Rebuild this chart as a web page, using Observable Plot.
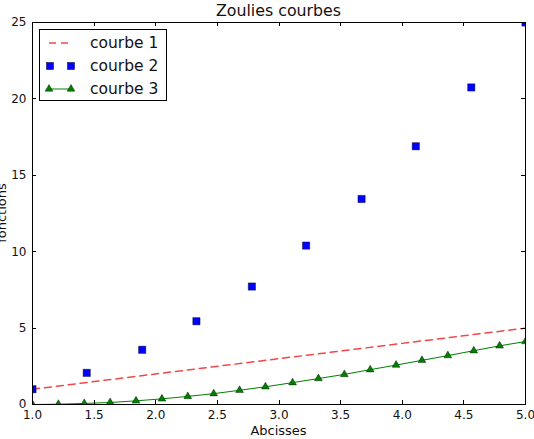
<!DOCTYPE html>
<html><head><meta charset="utf-8">
<script src="https://cdn.jsdelivr.net/npm/d3@7"></script>
<script src="https://cdn.jsdelivr.net/npm/@observablehq/plot@0.6"></script>
<style>body{margin:0;background:#fff;}</style>
</head><body><div id="chart"></div>
<script>
const title = "Zoulies courbes";
const xLabel = "Abcisses";
const yLabel = "fonctions";
const seriesNames = ["courbe 1", "courbe 2", "courbe 3"];

const curve1X = [1, 2, 3, 4, 5];
const curve1Y = [1, 2, 3, 4, 5];

const curve2X = [1, 1.44, 1.89, 2.33, 2.78, 3.22, 3.67, 4.11, 4.56, 5];
const curve2Y = [1.0, 2.07, 3.58, 5.45, 7.72, 10.4, 13.45, 16.9, 20.75, 25];

const curve3X = [1, 1.21, 1.42, 1.63, 1.84, 2.05, 2.26, 2.47, 2.68, 2.89, 3.11, 3.32, 3.53, 3.74, 3.95, 4.16, 4.37, 4.58, 4.79, 5];
const curve3Y = [0, 0.02, 0.07, 0.13, 0.24, 0.37, 0.53, 0.71, 0.93, 1.16, 1.43, 1.7, 1.97, 2.28, 2.58, 2.89, 3.2, 3.52, 3.84, 4.12];

const xTicks = [1, 1.5, 2, 2.5, 3, 3.5, 4, 4.5, 5];
const xTickLabels = ["1.0", "1.5", "2.0", "2.5", "3.0", "3.5", "4.0", "4.5", "5.0"];
const yTicks = [0, 5, 10, 15, 20, 25];
const yTickLabels = ["0", "5", "10", "15", "20", "25"];

const d1 = curve1X.map((x, i) => ({x, y: curve1Y[i]}));
const d2 = curve2X.map((x, i) => ({x, y: curve2Y[i]}));
const d3d = curve3X.map((x, i) => ({x, y: curve3Y[i]}));

const W = 534, H = 439, mL = 32, mR = 9, mT = 22, mB = 35;
const red = "#f04848", blue = "#0000ff", green = "#008000";

const chart = Plot.plot({
  width: W, height: H,
  marginLeft: mL, marginRight: mR, marginTop: mT, marginBottom: mB,
  style: {fontFamily: "DejaVu Sans", fontSize: "12px", background: "white", color: "#111"},
  x: {domain: [1, 5]},
  y: {domain: [0, 25]},
  marks: [
    Plot.line(d1, {x: "x", y: "y", stroke: red, strokeWidth: 1.5, strokeDasharray: "7,5", clip: true}),
    Plot.line(d3d, {x: "x", y: "y", stroke: green, strokeWidth: 1, clip: true}),
    Plot.dot(d3d, {x: "x", y: "y", symbol: "triangle", r: 2.9, fill: green, stroke: "black", strokeWidth: 0.4, clip: true}),
    Plot.dot(d2, {x: "x", y: "y", symbol: "square", r: 4.1, fill: blue, stroke: "black", strokeWidth: 0.4, clip: true}),
    Plot.axisX(xTicks, {tickSize: 0, tickPadding: 6, tickFormat: d => xTickLabels[xTicks.indexOf(d)], label: null, fontSize: 12}),
    Plot.axisY(yTicks, {tickSize: 0, tickPadding: 6, tickFormat: d => yTickLabels[yTicks.indexOf(d)], label: null, fontSize: 12}),
    Plot.frame({stroke: "black", strokeWidth: 1})
  ]
});
document.getElementById("chart").appendChild(chart);

const svg = d3.select(chart);
const sx = chart.scale("x"), sy = chart.scale("y");
const x0 = mL, x1 = W - mR, y0 = mT, y1 = H - mB;
const tk = 4;
const g = svg.append("g").attr("stroke", "black").attr("stroke-width", 1);
xTicks.forEach(v => {
  const px = Math.round(sx.apply(v)) + 0.5;
  g.append("line").attr("x1", px).attr("x2", px).attr("y1", y1).attr("y2", y1 - tk);
  g.append("line").attr("x1", px).attr("x2", px).attr("y1", y0).attr("y2", y0 + tk);
});
yTicks.forEach(v => {
  const py = Math.round(sy.apply(v)) + 0.5;
  g.append("line").attr("y1", py).attr("y2", py).attr("x1", x0).attr("x2", x0 + tk);
  g.append("line").attr("y1", py).attr("y2", py).attr("x1", x1).attr("x2", x1 - tk);
});

svg.append("text").text(title)
  .attr("x", (x0 + x1) / 2).attr("y", 16)
  .attr("text-anchor", "middle").attr("font-size", 15.8).attr("fill", "#111");
svg.append("text").text(xLabel)
  .attr("x", (x0 + x1) / 2).attr("y", 435)
  .attr("text-anchor", "middle").attr("font-size", 13).attr("fill", "#111");
svg.append("text").text(yLabel)
  .attr("transform", `translate(6,${(y0 + y1) / 2}) rotate(-90)`)
  .attr("text-anchor", "middle").attr("font-size", 13).attr("fill", "#111");

// legend
const lg = svg.append("g");
lg.append("rect").attr("x", 39.5).attr("y", 29.5).attr("width", 127).attr("height", 71)
  .attr("fill", "white").attr("stroke", "black").attr("stroke-width", 1);
const rows = [43, 66, 89];
const hx0 = 49, hx1 = 71;
lg.append("line").attr("x1", hx0).attr("x2", hx1).attr("y1", rows[0]).attr("y2", rows[0])
  .attr("stroke", red).attr("stroke-width", 1.5).attr("stroke-dasharray", "7,5");
[hx0 + 1, hx1].forEach(px => {
  lg.append("rect").attr("x", px - 3.6).attr("y", rows[1] - 3.6).attr("width", 7.2).attr("height", 7.2)
    .attr("fill", blue).attr("stroke", "black").attr("stroke-width", 0.4);
});
lg.append("line").attr("x1", hx0).attr("x2", hx1).attr("y1", rows[2]).attr("y2", rows[2])
  .attr("stroke", green).attr("stroke-width", 1);
[hx0, hx1].forEach(px => {
  lg.append("path").attr("d", d3.symbol(d3.symbolTriangle, Math.PI * 2.9 * 2.9)())
    .attr("transform", `translate(${px},${rows[2]})`)
    .attr("fill", green).attr("stroke", "black").attr("stroke-width", 0.4);
});
seriesNames.forEach((name, i) => {
  lg.append("text").text(name).attr("x", 90).attr("y", rows[i]).attr("dy", "0.35em")
    .attr("text-anchor", "start")
    .attr("font-size", 15.5).attr("fill", "#111");
});
</script>
</body></html>
